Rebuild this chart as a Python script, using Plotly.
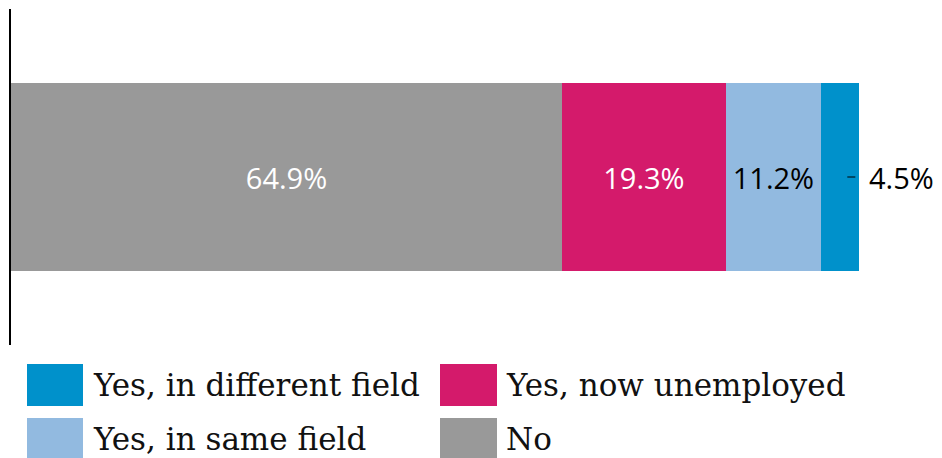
import plotly.graph_objects as go

categories = ["No", "Yes, now unemployed", "Yes, in same field", "Yes, in different field"]
values = [64.9, 19.3, 11.2, 4.5]
colors = ["#999999", "#d41a6b", "#92bae0", "#0091cb"]
label_colors = ["white", "white", "black", "black"]
legend_order = ["Yes, in different field", "Yes, now unemployed", "Yes, in same field", "No"]

# the page adds an 8px body margin; figure is sized to fit the 942x458 window
OFF = 8
W, H = 942 - OFF, 458 - OFF
ML, MR, MT, MB = 11 - OFF, 82, 9 - OFF, 113
PW, PH = W - ML - MR, H - MT - MB

def px_x(px):
    return (px - OFF - ML) / PW

def px_y(py):
    return (H - MB - (py - OFF)) / PH

fig = go.Figure()
for i, (cat, val, col, lc) in enumerate(zip(categories, values, colors, label_colors)):
    inside = i < 3
    fig.add_trace(go.Bar(
        y=[""], x=[val], orientation="h", name=cat,
        marker=dict(color=col, line=dict(width=0)),
        text=[f"{val}%"] if inside else None,
        texttemplate="%{text}" if inside else None,
        textposition="inside" if inside else "none",
        insidetextanchor="middle",
        textfont=dict(family="Open Sans", size=29, color=lc),
        showlegend=False,
    ))

# outside label for the small last segment
total = sum(values)
start_last = total - values[-1]
fig.add_annotation(x=total, y=0, xref="x", yref="y", text=f"{values[-1]}%",
                   showarrow=False, xanchor="left", xshift=8,
                   font=dict(family="Open Sans", size=29, color="black"))
fig.add_shape(type="line", xref="x", yref="y",
              x0=start_last + values[-1] * 0.69, x1=start_last + values[-1] * 0.9,
              y0=0, y1=0, line=dict(color="black", width=1))

# custom legend (2 columns)
rows = [(364, 406, 385), (418, 460, 439)]
cols = [(27, 83, 91), (440, 497, 504)]
cmap = dict(zip(categories, colors))
for k, name in enumerate(legend_order):
    r, c = rows[k // 2], cols[k % 2]
    fig.add_shape(type="rect", xref="paper", yref="paper",
                  x0=px_x(c[0]), x1=px_x(c[1]), y0=px_y(r[1]), y1=px_y(r[0]),
                  fillcolor=cmap[name], line=dict(width=0))
    fig.add_annotation(xref="paper", yref="paper", x=px_x(c[2]), y=px_y(r[2]),
                       text=name, showarrow=False, xanchor="left", yanchor="middle",
                       font=dict(family="DejaVu Serif", size=31, color="#111111"))

fig.update_layout(
    width=W, height=H, barmode="stack", bargap=0.44,
    margin=dict(l=ML, r=MR, t=MT, b=MB),
    plot_bgcolor="white", paper_bgcolor="white",
    xaxis=dict(visible=False, range=[0, 100]),
    yaxis=dict(showticklabels=False, showgrid=False, zeroline=False,
               showline=True, linecolor="black", linewidth=2, range=[-0.5, 0.5]),
)
fig.write_html("out.html")
